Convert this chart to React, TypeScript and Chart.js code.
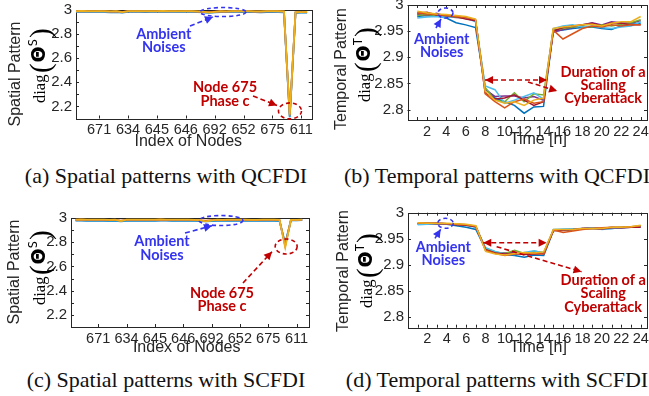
import React, { useEffect, useRef } from "react";
import { Chart, registerables } from "chart.js";
Chart.register(...registerables);

// ---------------- DATA ----------------
const NODE_IDX = [1,2,3,4,5,6,7,8,9,10,11,12,13,14,15,16,17,18,19,20,21,22,23,24,25,26,27,28,29,30,31,32,33,34,35,36,37,38,39,40,41];
const NODE_TICK_POS = [5,10,15,20,25,30,35,40];
const NODE_TICK_LABELS = ["671","634","645","646","692","652","675","611"];
const HOURS = [1,2,3,4,5,6,7,8,9,10,11,12,13,14,15,16,17,18,19,20,21,22,23,24];
const HOUR_TICKS = [2,4,6,8,10,12,14,16,18,20,22,24];
const SPATIAL_Y_TICKS = [2.2,2.4,2.6,2.8,3];
const TEMPORAL_Y_TICKS = [2.8,2.85,2.9,2.95,3];

// (a) spatial patterns with QCFDI
const A_BLUE = [2.985,2.986,2.984,2.983,2.985,2.982,2.980,2.983,2.979,2.984,2.985,2.984,2.983,2.985,2.984,2.986,2.985,2.984,2.983,2.985,2.984,2.982,2.980,2.977,2.981,2.983,2.982,2.984,2.985,2.983,2.984,2.982,2.981,2.983,2.984,2.982,2.981,2.110,2.977,2.978,2.979];
const A_LIGHTBLUE = [2.987,2.988,2.986,2.985,2.987,2.985,2.984,2.986,2.982,2.986,2.987,2.986,2.986,2.987,2.986,2.988,2.987,2.986,2.985,2.987,2.986,2.985,2.983,2.980,2.984,2.985,2.985,2.986,2.987,2.986,2.986,2.985,2.984,2.986,2.987,2.985,2.983,2.118,2.979,2.980,2.981];
const A_ORANGE = [2.989,2.990,2.989,2.988,2.989,2.988,2.987,2.988,2.984,2.988,2.989,2.989,2.988,2.989,2.989,2.990,2.989,2.989,2.988,2.989,2.988,2.987,2.985,2.983,2.986,2.988,2.987,2.988,2.989,2.988,2.988,2.987,2.987,2.988,2.989,2.988,2.986,2.125,2.981,2.982,2.983];
const A_YELLOW = [2.991,2.992,2.991,2.990,2.991,2.990,2.989,2.990,2.982,2.990,2.991,2.991,2.990,2.991,2.991,2.992,2.991,2.990,2.990,2.991,2.990,2.989,2.986,2.978,2.985,2.990,2.989,2.990,2.991,2.990,2.990,2.989,2.989,2.990,2.991,2.990,2.988,2.132,2.982,2.983,2.984];

// (c) spatial patterns with SCFDI
const C_BLUE = [2.978,2.979,2.977,2.976,2.978,2.976,2.975,2.977,2.973,2.977,2.978,2.977,2.976,2.978,2.977,2.979,2.978,2.977,2.976,2.978,2.977,2.976,2.974,2.972,2.975,2.977,2.976,2.977,2.978,2.977,2.977,2.976,2.976,2.977,2.978,2.976,2.975,2.790,2.980,2.981,2.982];
const C_LIGHTBLUE = [2.982,2.983,2.981,2.980,2.982,2.980,2.979,2.981,2.976,2.981,2.982,2.981,2.980,2.982,2.981,2.983,2.982,2.981,2.980,2.982,2.981,2.980,2.978,2.975,2.979,2.981,2.980,2.981,2.982,2.981,2.981,2.980,2.980,2.981,2.982,2.980,2.979,2.778,2.982,2.983,2.984];
const C_ORANGE = [2.985,2.986,2.985,2.984,2.985,2.984,2.983,2.984,2.979,2.984,2.985,2.985,2.984,2.985,2.985,2.986,2.985,2.985,2.984,2.985,2.984,2.983,2.981,2.978,2.982,2.984,2.983,2.984,2.985,2.984,2.984,2.983,2.983,2.984,2.985,2.984,2.982,2.768,2.983,2.984,2.985];
const C_YELLOW = [2.987,2.988,2.987,2.986,2.987,2.986,2.985,2.986,2.975,2.986,2.987,2.987,2.986,2.987,2.987,2.988,2.987,2.986,2.986,2.987,2.986,2.985,2.982,2.972,2.981,2.986,2.985,2.986,2.987,2.986,2.986,2.985,2.985,2.986,2.987,2.986,2.984,2.757,2.984,2.985,2.986];

// (b) temporal patterns with QCFDI
const B_BLUE = [2.978,2.980,2.979,2.975,2.966,2.962,2.957,2.840,2.822,2.815,2.808,2.793,2.805,2.806,2.950,2.952,2.955,2.957,2.958,2.955,2.953,2.960,2.963,2.965];
const B_ORANGE = [2.985,2.983,2.982,2.980,2.978,2.976,2.972,2.830,2.815,2.803,2.815,2.820,2.812,2.815,2.952,2.935,2.945,2.955,2.960,2.958,2.962,2.960,2.962,2.962];
const B_YELLOW = [2.988,2.985,2.983,2.982,2.980,2.978,2.973,2.835,2.818,2.812,2.815,2.808,2.818,2.822,2.955,2.958,2.960,2.962,2.963,2.960,2.965,2.968,2.968,2.978];
const B_PURPLE = [2.982,2.980,2.984,2.978,2.976,2.975,2.970,2.838,2.825,2.826,2.826,2.822,2.825,2.818,2.948,2.953,2.957,2.962,2.966,2.962,2.968,2.966,2.965,2.970];
const B_GREEN = [2.980,2.982,2.980,2.979,2.977,2.974,2.971,2.842,2.818,2.815,2.832,2.815,2.830,2.828,2.952,2.955,2.958,2.960,2.958,2.962,2.960,2.963,2.966,2.972];
const B_LIGHTBLUE = [2.975,2.977,2.978,2.976,2.979,2.975,2.968,2.845,2.838,2.812,2.818,2.825,2.832,2.820,2.955,2.960,2.962,2.958,2.960,2.957,2.955,2.958,2.960,2.968];
const B_RED = [2.984,2.986,2.981,2.980,2.978,2.973,2.970,2.832,2.820,2.822,2.828,2.818,2.808,2.815,2.950,2.957,2.960,2.962,2.965,2.960,2.966,2.965,2.962,2.962];

// (d) temporal patterns with SCFDI
const D_BLUE = [2.978,2.979,2.979,2.978,2.975,2.972,2.968,2.930,2.924,2.920,2.918,2.915,2.919,2.918,2.966,2.968,2.969,2.970,2.971,2.969,2.970,2.971,2.973,2.973];
const D_ORANGE = [2.980,2.980,2.980,2.979,2.978,2.977,2.974,2.928,2.922,2.918,2.921,2.923,2.922,2.921,2.967,2.962,2.965,2.968,2.970,2.971,2.972,2.972,2.973,2.975];
const D_YELLOW = [2.981,2.980,2.980,2.980,2.979,2.978,2.975,2.926,2.921,2.919,2.922,2.924,2.923,2.925,2.968,2.968,2.968,2.970,2.970,2.970,2.972,2.972,2.973,2.976];
const D_PURPLE = [2.979,2.979,2.981,2.979,2.978,2.977,2.973,2.931,2.924,2.923,2.924,2.921,2.924,2.922,2.966,2.966,2.967,2.970,2.971,2.970,2.972,2.971,2.972,2.974];
const D_GREEN = [2.979,2.980,2.979,2.979,2.978,2.976,2.973,2.932,2.925,2.922,2.928,2.922,2.926,2.924,2.967,2.967,2.968,2.969,2.970,2.969,2.971,2.972,2.973,2.974];
const D_LIGHTBLUE = [2.977,2.978,2.979,2.978,2.978,2.976,2.972,2.933,2.926,2.921,2.920,2.924,2.927,2.923,2.968,2.969,2.969,2.969,2.971,2.968,2.970,2.971,2.972,2.973];
const D_RED = [2.980,2.980,2.979,2.979,2.977,2.976,2.973,2.929,2.923,2.921,2.922,2.920,2.921,2.922,2.966,2.967,2.968,2.970,2.970,2.969,2.971,2.971,2.972,2.972];

// ---------------- STYLE ----------------
const M_BLUE = "#0072BD", M_ORANGE = "#D95319", M_YELLOW = "#EDB120", M_PURPLE = "#7E2F8E",
  M_GREEN = "#77AC30", M_LIGHTBLUE = "#4DBEEE", M_RED = "#A2142F";
const AX = "#262626";
const TXT_BLUE = "#3434F0";
const TXT_RED = "#C00000";
const SANS = '"Liberation Sans", Arial, Helvetica, sans-serif';
const ANN_FONT = 'bold 14.5px Lato, "Liberation Sans", Arial, sans-serif';

type Ann =
  | { k: "ellipse"; x: number; y: number; rx: number; ry: number; c: string }
  | { k: "arrow"; x1: number; y1: number; x2: number; y2: number; c: string; both?: boolean }
  | { k: "text"; x: number; y: number; lines: string[]; c: string };

const ANN_A: Ann[] = [
  { k: "ellipse", x: 26.45, y: 2.983, rx: 23, ry: 4.5, c: TXT_BLUE },
  { k: "arrow", x1: 20.73, y1: 2.867, x2: 24.71, y2: 2.942, c: TXT_BLUE },
  { k: "text", x: 16.2, y: 2.747, lines: ["Ambient", "Noises"], c: TXT_BLUE },
  { k: "text", x: 26.8, y: 2.30, lines: ["Node 675", "Phase c"], c: TXT_RED },
  { k: "arrow", x1: 31.64, y1: 2.287, x2: 35.79, y2: 2.208, c: TXT_RED },
  { k: "ellipse", x: 38.04, y: 2.163, rx: 11.5, ry: 8, c: TXT_RED },
];
const ANN_B: Ann[] = [
  { k: "ellipse", x: 3.91, y: 2.9847, rx: 7.5, ry: 5, c: TXT_BLUE },
  { k: "arrow", x1: 2.93, y1: 2.956, x2: 3.45, y2: 2.9732, c: TXT_BLUE },
  { k: "text", x: 3.52, y: 2.922, lines: ["Ambient", "Noises"], c: TXT_BLUE },
  { k: "arrow", x1: 7.98, y1: 2.8565, x2: 14.36, y2: 2.8565, c: TXT_RED, both: true },
  { k: "arrow", x1: 12.4, y1: 2.8527, x2: 15.4, y2: 2.8355, c: TXT_RED },
  { k: "text", x: 20.13, y: 2.8464, lines: ["Duration of a", "Scaling", "Cyberattack"], c: TXT_RED },
];
const ANN_C: Ann[] = [
  { k: "ellipse", x: 26.67, y: 2.979, rx: 22, ry: 5, c: TXT_BLUE },
  { k: "arrow", x1: 20.32, y1: 2.876, x2: 25.08, y2: 2.936, c: TXT_BLUE },
  { k: "text", x: 16.26, y: 2.75, lines: ["Ambient", "Noises"], c: TXT_BLUE },
  { k: "ellipse", x: 38.17, y: 2.7647, rx: 11, ry: 7.5, c: TXT_RED },
  { k: "arrow", x1: 30.55, y1: 2.463, x2: 35.67, y2: 2.722, c: TXT_RED },
  { k: "text", x: 26.85, y: 2.323, lines: ["Node 675", "Phase c"], c: TXT_RED },
];
const ANN_D: Ann[] = [
  { k: "ellipse", x: 3.87, y: 2.9797, rx: 7.8, ry: 5, c: TXT_BLUE },
  { k: "arrow", x1: 2.78, y1: 2.951, x2: 3.37, y2: 2.9682, c: TXT_BLUE },
  { k: "text", x: 3.64, y: 2.9216, lines: ["Ambient", "Noises"], c: TXT_BLUE },
  { k: "arrow", x1: 7.76, y1: 2.9426, x2: 14.3, y2: 2.9426, c: TXT_RED, both: true },
  { k: "arrow", x1: 9.14, y1: 2.935, x2: 17.9, y2: 2.887, c: TXT_RED },
  { k: "text", x: 20.13, y: 2.845, lines: ["Duration of a", "Scaling", "Cyberattack"], c: TXT_RED },
];

type Series = { values: number[]; color: string };
type PanelCfg = {
  left: number; top: number; w: number; h: number;
  area: { left: number; top: number; right: number; bottom: number };
  xs: number[]; series: Series[]; lw: number;
  xmin: number; xmax: number; ymin: number; ymax: number;
  xTicks: number[]; xLabel: (v: number) => string; xMinor: number[];
  yTicks: number[]; yMinor: number[];
  yTitle1: string; sup: string; yT1x: number; yT1y: number; yT2x: number; yT2bottom: number;
  xTitle: string; xTx: number; xTy: number;
  ann: Ann[];
};

const nodeLabel = (v: number) => { const i = NODE_TICK_POS.indexOf(v); return i >= 0 ? NODE_TICK_LABELS[i] : ""; };
const numLabel = (v: number) => String(+v.toFixed(2));

const SPATIAL_MINOR = [2.1,2.2,2.3,2.4,2.5,2.6,2.7,2.8,2.9];

const PANELS: PanelCfg[] = [
  {
    left: 0, top: 0, w: 325, h: 160,
    area: { left: 76, top: 10, right: 311.7, bottom: 118.5 },
    xs: NODE_IDX, lw: 1.8,
    series: [
      { values: A_YELLOW, color: M_YELLOW }, { values: A_ORANGE, color: M_ORANGE },
      { values: A_LIGHTBLUE, color: M_LIGHTBLUE }, { values: A_BLUE, color: M_BLUE },
    ],
    xmin: 1, xmax: 41.8, ymin: 2.1, ymax: 3,
    xTicks: NODE_TICK_POS, xLabel: nodeLabel, xMinor: [],
    yTicks: SPATIAL_Y_TICKS, yMinor: SPATIAL_MINOR,
    yTitle1: "Spatial Pattern", sup: "S", yT1x: 15.7, yT1y: 74, yT2x: 44.5, yT2bottom: 103,
    xTitle: "Index of Nodes", xTx: 188.3, xTy: 141.5,
    ann: ANN_A,
  },
  {
    left: 325, top: 0, w: 324, h: 160,
    area: { left: 407.5, top: 5, right: 647, bottom: 120 },
    xs: HOURS, lw: 1.5,
    series: [
      { values: B_YELLOW, color: M_YELLOW }, { values: B_ORANGE, color: M_ORANGE },
      { values: B_RED, color: M_RED }, { values: B_LIGHTBLUE, color: M_LIGHTBLUE },
      { values: B_GREEN, color: M_GREEN }, { values: B_PURPLE, color: M_PURPLE },
      { values: B_BLUE, color: M_BLUE },
    ],
    xmin: 0, xmax: 24.65, ymin: 2.78, ymax: 3,
    xTicks: HOUR_TICKS, xLabel: (v) => String(v), xMinor: HOURS,
    yTicks: TEMPORAL_Y_TICKS, yMinor: [],
    yTitle1: "Temporal Pattern", sup: "T", yT1x: 341.7, yT1y: 69, yT2x: 370, yT2bottom: 102,
    xTitle: "Time [h]", xTx: 538.3, xTy: 139.5,
    ann: ANN_B,
  },
  {
    left: 0, top: 195, w: 325, h: 165,
    area: { left: 71, top: 218, right: 309, bottom: 327 },
    xs: NODE_IDX, lw: 1.8,
    series: [
      { values: C_YELLOW, color: M_YELLOW }, { values: C_ORANGE, color: M_ORANGE },
      { values: C_LIGHTBLUE, color: M_LIGHTBLUE }, { values: C_BLUE, color: M_BLUE },
    ],
    xmin: 0.2, xmax: 42.2, ymin: 2.1, ymax: 3,
    xTicks: NODE_TICK_POS, xLabel: nodeLabel, xMinor: [],
    yTicks: SPATIAL_Y_TICKS, yMinor: SPATIAL_MINOR,
    yTitle1: "Spatial Pattern", sup: "S", yT1x: 14.2, yT1y: 272, yT2x: 44.5, yT2bottom: 305,
    xTitle: "Index of Nodes", xTx: 186.7, xTy: 348,
    ann: ANN_C,
  },
  {
    left: 325, top: 195, w: 324, h: 165,
    area: { left: 408, top: 212.7, right: 647, bottom: 327.7 },
    xs: HOURS, lw: 1.5,
    series: [
      { values: D_YELLOW, color: M_YELLOW }, { values: D_ORANGE, color: M_ORANGE },
      { values: D_RED, color: M_RED }, { values: D_LIGHTBLUE, color: M_LIGHTBLUE },
      { values: D_GREEN, color: M_GREEN }, { values: D_PURPLE, color: M_PURPLE },
      { values: D_BLUE, color: M_BLUE },
    ],
    xmin: 0, xmax: 24.65, ymin: 2.78, ymax: 3,
    xTicks: HOUR_TICKS, xLabel: (v) => String(v), xMinor: HOURS,
    yTicks: TEMPORAL_Y_TICKS, yMinor: [],
    yTitle1: "Temporal Pattern", sup: "T", yT1x: 344, yT1y: 271, yT2x: 372, yT2bottom: 308,
    xTitle: "Time [h]", xTx: 538.3, xTy: 347.5,
    ann: ANN_D,
  },
];

const CAPTIONS = [
  { text: "(a) Spatial patterns with QCFDI", x: 166, y: 176 },
  { text: "(b) Temporal patterns with QCFDI", x: 497, y: 176 },
  { text: "(c) Spatial patterns with SCFDI", x: 166, y: 380 },
  { text: "(d) Temporal patterns with SCFDI", x: 497, y: 380 },
];

// ---------------- DRAW HELPERS ----------------
function arrowHead(ctx: CanvasRenderingContext2D, x1: number, y1: number, x2: number, y2: number, c: string) {
  const a = Math.atan2(y2 - y1, x2 - x1);
  const L = 8, W = 4;
  ctx.save();
  ctx.setLineDash([]);
  ctx.fillStyle = c;
  ctx.beginPath();
  ctx.moveTo(x2, y2);
  ctx.lineTo(x2 - L * Math.cos(a) + W * Math.sin(a), y2 - L * Math.sin(a) - W * Math.cos(a));
  ctx.lineTo(x2 - L * Math.cos(a) - W * Math.sin(a), y2 - L * Math.sin(a) + W * Math.cos(a));
  ctx.closePath();
  ctx.fill();
  ctx.restore();
}

function makePlugins(p: PanelCfg) {
  const off = (gx: number, gy: number) => [gx - p.left, gy - p.top];
  const frame = {
    id: "frame",
    beforeDatasetsDraw(chart: any) {
      const { ctx, chartArea } = chart;
      const { left, top, right, bottom } = chartArea;
      const xs = chart.scales.x, ys = chart.scales.y;
      ctx.save();
      ctx.strokeStyle = AX;
      ctx.lineWidth = 1;
      ctx.strokeRect(Math.round(left) + 0.5, Math.round(top) + 0.5, Math.round(right) - Math.round(left), Math.round(bottom) - Math.round(top));
      ctx.beginPath();
      const tick = 3;
      const yAll = Array.from(new Set([...p.yTicks, ...p.yMinor]));
      yAll.forEach((v) => {
        const py = Math.round(ys.getPixelForValue(v)) + 0.5;
        ctx.moveTo(left, py); ctx.lineTo(left + tick, py);
        ctx.moveTo(right, py); ctx.lineTo(right - tick, py);
      });
      const xAll = Array.from(new Set([...p.xTicks, ...p.xMinor]));
      xAll.forEach((v) => {
        const px = Math.round(xs.getPixelForValue(v)) + 0.5;
        ctx.moveTo(px, bottom); ctx.lineTo(px, bottom - tick);
        ctx.moveTo(px, top); ctx.lineTo(px, top + tick);
      });
      ctx.stroke();
      ctx.restore();
    },
    afterDraw(chart: any) {
      const { ctx } = chart;
      const xs = chart.scales.x, ys = chart.scales.y;
      const X = (v: number) => xs.getPixelForValue(v);
      const Y = (v: number) => ys.getPixelForValue(v);
      // annotations
      p.ann.forEach((a) => {
        ctx.save();
        if (a.k === "ellipse") {
          ctx.strokeStyle = a.c; ctx.lineWidth = 1.6; ctx.setLineDash([4, 3]);
          ctx.beginPath(); ctx.ellipse(X(a.x), Y(a.y), a.rx, a.ry, 0, 0, Math.PI * 2); ctx.stroke();
        } else if (a.k === "arrow") {
          const x1 = X(a.x1), y1 = Y(a.y1), x2 = X(a.x2), y2 = Y(a.y2);
          ctx.strokeStyle = a.c; ctx.lineWidth = 1.6; ctx.setLineDash([5, 3]);
          ctx.beginPath(); ctx.moveTo(x1, y1); ctx.lineTo(x2, y2); ctx.stroke();
          arrowHead(ctx, x1, y1, x2, y2, a.c);
          if (a.both) arrowHead(ctx, x2, y2, x1, y1, a.c);
        } else {
          ctx.fillStyle = a.c; ctx.font = ANN_FONT;
          ctx.textAlign = "center"; ctx.textBaseline = "middle";
          const lh = 13.2;
          const cx = X(a.x), cy = Y(a.y);
          a.lines.forEach((t, i) => ctx.fillText(t, cx, cy + (i - (a.lines.length - 1) / 2) * lh));
        }
        ctx.restore();
      });
      // x title
      ctx.save();
      const [tx, ty] = off(p.xTx, p.xTy);
      ctx.fillStyle = AX; ctx.font = `16px ${SANS}`; ctx.textAlign = "center"; ctx.textBaseline = "middle";
      ctx.fillText(p.xTitle, tx, ty);
      ctx.restore();
      // y title line 1
      ctx.save();
      const [t1x, t1y] = off(p.yT1x, p.yT1y);
      ctx.translate(t1x, t1y); ctx.rotate(-Math.PI / 2);
      ctx.fillStyle = AX; ctx.font = `16px ${SANS}`; ctx.textAlign = "center"; ctx.textBaseline = "middle";
      ctx.fillText(p.yTitle1, 0, 0);
      ctx.restore();
      // y title line 2: diag(Θ^S), starting from its bottom end
      ctx.save();
      const [t2x, t2y] = off(p.yT2x, p.yT2bottom);
      ctx.translate(t2x, t2y); ctx.rotate(-Math.PI / 2);
      ctx.fillStyle = "#000"; ctx.textAlign = "left"; ctx.textBaseline = "alphabetic";
      const pieces = [
        { t: "diag", f: `16.5px "Liberation Serif", "Times New Roman", serif`, dy: 0, gap: 1.5 },
        { t: "(", f: `29px "Liberation Serif", "Times New Roman", serif`, dy: 5, gap: 1 },
        { t: "Θ", f: `bold 19px "DejaVu Sans", sans-serif`, dy: 0, gap: 0 },
        { t: p.sup, f: `12px "DejaVu Sans Mono", monospace`, dy: -8, gap: 1 },
        { t: ")", f: `29px "Liberation Serif", "Times New Roman", serif`, dy: 5, gap: 0 },
      ];
      let cx = 0;
      pieces.forEach((pc) => {
        ctx.font = pc.f;
        ctx.fillText(pc.t, cx, pc.dy);
        cx += ctx.measureText(pc.t).width + pc.gap;
      });
      ctx.restore();
    },
  };
  return [frame];
}

function buildConfig(p: PanelCfg): any {
  const zeroPad = (s: any) => { s.paddingTop = 0; s.paddingBottom = 0; s.paddingLeft = 0; s.paddingRight = 0; };
  return {
    type: "line",
    data: {
      datasets: p.series.map((s) => ({
        data: p.xs.map((x, i) => ({ x, y: s.values[i] })),
        borderColor: s.color, borderWidth: p.lw, pointRadius: 0, tension: 0, fill: false,
      })),
    },
    options: {
      responsive: false, animation: false, devicePixelRatio: 1,
      layout: { padding: { left: 0, top: p.area.top - p.top, right: p.left + p.w - p.area.right, bottom: 0 } },
      plugins: { legend: { display: false }, tooltip: { enabled: false } },
      scales: {
        x: {
          type: "linear", min: p.xmin, max: p.xmax,
          grid: { display: false, drawTicks: false }, border: { display: false },
          ticks: {
            autoSkip: false, maxRotation: 0, minRotation: 0, padding: 3, color: AX,
            font: { family: SANS, size: 14.5 }, callback: (v: number) => p.xLabel(v),
          },
          afterBuildTicks: (s: any) => { s.ticks = p.xTicks.map((v) => ({ value: v })); },
          afterFit: (s: any) => { s.height = p.top + p.h - p.area.bottom; zeroPad(s); },
        },
        y: {
          type: "linear", min: p.ymin, max: p.ymax,
          grid: { display: false, drawTicks: false }, border: { display: false },
          ticks: {
            autoSkip: false, padding: 4, color: AX,
            font: { family: SANS, size: 15 }, callback: (v: number) => numLabel(v),
          },
          afterBuildTicks: (s: any) => { s.ticks = p.yTicks.map((v) => ({ value: v })); },
          afterFit: (s: any) => { s.width = p.area.left - p.left; zeroPad(s); },
        },
      },
    },
    plugins: makePlugins(p),
  };
}

function Panel({ p }: { p: PanelCfg }) {
  const ref = useRef<HTMLCanvasElement>(null);
  useEffect(() => {
    const chart = new Chart(ref.current!, buildConfig(p));
    return () => chart.destroy();
  }, []);
  return (
    <canvas ref={ref} width={p.w} height={p.h}
      style={{ position: "absolute", left: p.left, top: p.top, width: p.w, height: p.h }} />
  );
}

export default function App() {
  return (
    <div style={{ position: "fixed", left: 0, top: 0, width: 649, height: 396, background: "#fff", overflow: "hidden" }}>
      {PANELS.map((p, i) => <Panel key={i} p={p} />)}
      {CAPTIONS.map((c, i) => (
        <div key={i} style={{
          position: "absolute", left: c.x - 200, width: 400, top: c.y - 13, height: 26, lineHeight: "26px",
          textAlign: "center", whiteSpace: "nowrap", color: "#111",
          fontFamily: '"Liberation Serif", "Times New Roman", serif', fontSize: 22,
        }}>{c.text}</div>
      ))}
    </div>
  );
}
